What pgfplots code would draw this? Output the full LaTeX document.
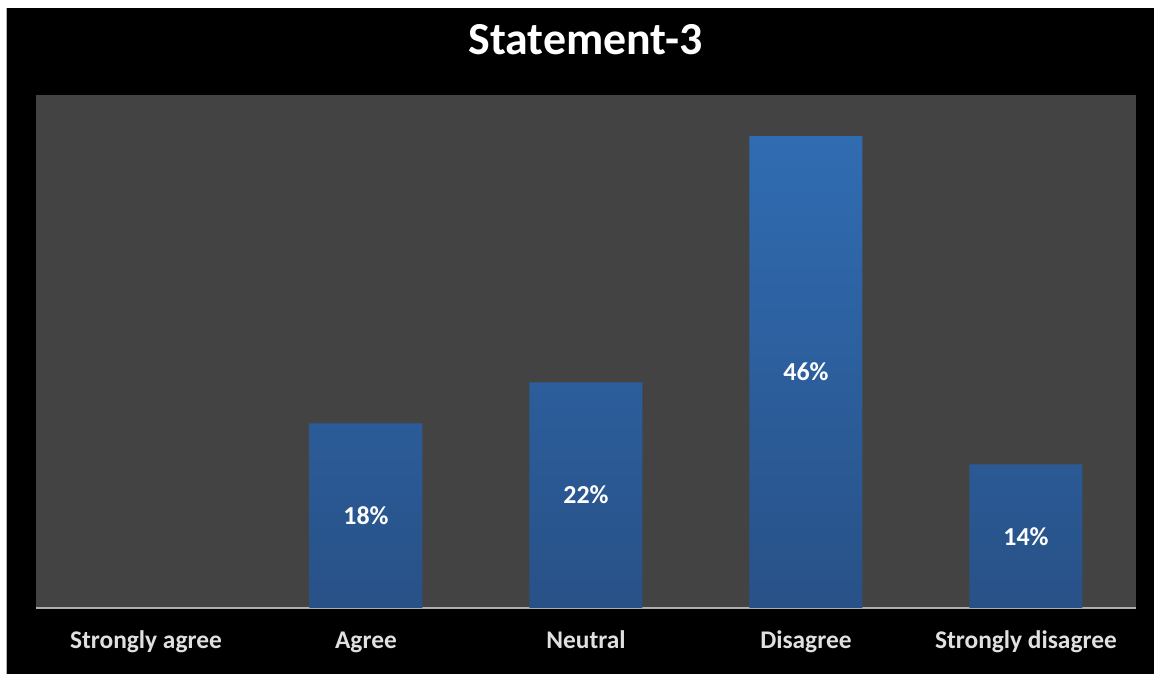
\documentclass[border=0pt]{standalone}
\usepackage{pgfplots}
\pgfplotsset{compat=1.18}
\usepackage{fontspec}
\setmainfont{Carlito}
\definecolor{plotbg}{RGB}{67,67,67}
\definecolor{bartop}{RGB}{48,108,178}
\definecolor{barbot}{RGB}{40,81,135}
\definecolor{axisgray}{RGB}{175,175,175}
\begin{document}
\begin{tikzpicture}
\fill[white] (0,0) rectangle (1154bp,674bp);
\fill[black] (6bp,0) rectangle (1154bp,666bp);
\draw[gray!60, line width=1bp] (6.5bp,0) -- (6.5bp,666bp);
\node[font=\bfseries\fontsize{46}{50}\selectfont, text=white, anchor=base, inner sep=0pt] at (585.5bp,619bp) {Statement-3};
\begin{axis}[
  at={(36bp,66bp)}, anchor=south west,
  scale only axis, width=1100bp, height=513bp,
  xmin=-0.5, xmax=4.5, ymin=0, ymax=50,
  axis background/.style={fill=plotbg},
  axis x line=bottom, axis y line=none,
  x axis line style={draw=axisgray, line width=2bp, -},
  xtick={0,1,2,3,4},
  xticklabels={Strongly agree, Agree, Neutral, Disagree, Strongly disagree},
  major tick length=0pt,
  xticklabel style={font=\bfseries\fontsize{25.5}{28}\selectfont, text=white!88!black, anchor=base, inner sep=0pt, yshift=-40bp},
  ytick=\empty,
  clip=false,
]
\addplot[ybar, bar width=113bp, draw=none, top color=bartop, bottom color=barbot]
  coordinates {(1,18) (2,22) (3,46) (4,14)};
\addplot[draw=none, mark=none, y filter/.expression={y/2},
  point meta=explicit symbolic, nodes near coords,
  every node near coord/.append style={anchor=center, inner sep=0pt, text=white, font=\bfseries\fontsize{26}{28}\selectfont}]
  coordinates {(1,18) [18\%] (2,22) [22\%] (3,46) [46\%] (4,14) [14\%]};
\end{axis}
\end{tikzpicture}
\end{document}
